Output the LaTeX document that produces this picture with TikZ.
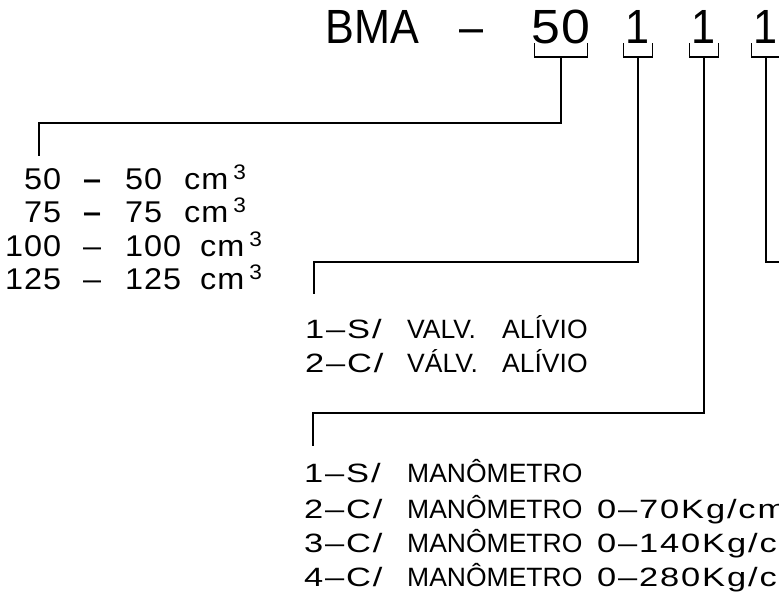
\documentclass[tikz,border=0pt]{standalone}
\usepackage{fontspec}
\setmainfont{Liberation Sans}
\newfontfamily\cadnarrow[FakeStretch=0.9]{Liberation Sans}
\newfontfamily\cadwide[FakeStretch=1.3,LetterSpace=7]{Liberation Sans}
\newfontfamily\cadnum[FakeStretch=1.08,LetterSpace=3]{Liberation Sans}
\usetikzlibrary{positioning,calc}
\tikzset{
  codetext/.style={anchor=base,inner sep=0pt,font=\cadnarrow\fontsize{48}{48}\selectfont},
  listtext/.style={anchor=base west,inner sep=0pt,font=\fontsize{26.5}{26.5}\selectfont},
  listwide/.style={listtext,font=\cadwide\fontsize{26.5}{26.5}\selectfont},
  voltext/.style={anchor=base west,inner sep=0pt,font=\cadnum\fontsize{30}{30}\selectfont},
  lead/.style={draw=black,line width=1.4pt,line cap=rect,line join=miter},
  leadbold/.style={lead,line width=2.2pt}
}

\begin{document}
\begin{tikzpicture}[x=1pt,y=-1pt]
  \useasboundingbox (0,0) rectangle (779,595);
  % model code
  \node[codetext,anchor=base west] (bma) at (325,43) {BMA};
  \node[codetext] (sep) at (472,43) {–};
  \node[codetext,font=\cadnum\fontsize{48}{48}\selectfont] (size) at (561,43) {50};
  \node[codetext] (valve) at (638,43) {1};
  \node[codetext] (gauge) at (704,43) {1};
  \node[codetext] (extra) at (766,43) {1};

  % brackets under each field
  \foreach \nm/\hw in {size/26.5, valve/14.5, gauge/14.5, extra/14.5} {
    \draw[lead] ($(\nm.base)+(-\hw,1)$) |- ($(\nm.base)+(\hw,14)$) -- ++(0,-13);
    \coordinate (\nm-stem) at ($(\nm.base)+(0,14)$);
  }

  % volumes
  \foreach \i/\xa/\y/\n/\xu/\f in {1/24/189/50/184/\bfseries, 2/24/222/75/184/\bfseries,
                                   3/5/256/100/200/\mdseries, 4/5/289/125/200/\mdseries} {
    \node[voltext] (vol\i) at (\xa,\y) {\n};
    \node[voltext] (vold\i) at (83,\y) {\f –};
    \node[voltext] (volv\i) at (125,\y) {\n};
    \node[voltext] (volu\i) at (\xu,\y) {cm\,\textsuperscript{3}};
  }

  % relief valve
  \node[listwide] (valve1) at (305,338) {1–S/};
  \node[listtext] (valve1a) at (407,338) {VALV.};
  \node[listtext] (valve1b) at (502,338) {ALÍVIO};
  \node[listwide] (valve2) at (305,372) {2–C/};
  \node[listtext] (valve2a) at (407,372) {VÁLV.};
  \node[listtext] (valve2b) at (502,372) {ALÍVIO};

  % pressure gauge
  \foreach \i/\y/\p/\r in {1/482/S/{}, 2/518/C/{0–70Kg/cm}, 3/552/C/{0–140Kg/cm}, 4/586/C/{0–280Kg/cm}} {
    \node[listwide] (gauge\i) at (304,\y) {\i–\p/};
    \node[listtext] (gauge\i a) at (407,\y) {MANÔMETRO};
    \node[listwide] (gauge\i b) at (597,\y) {\r};
  }

  % leaders
  \coordinate (size-end) at (39,155);
  \coordinate (valve-end) at (314,293);
  \coordinate (gauge-end) at (313,445);
  \coordinate (extra-end) at (781,262);
  \draw[lead] (size-stem) -- ++(0,66) -| (size-end);
  \draw[lead] (valve-stem) -- ++(0,205) -| (valve-end);
  \draw[leadbold] (gauge-stem) -- ++(0,356) -| (gauge-end);
  \draw[lead] (extra-stem) |- (extra-end);
\end{tikzpicture}
\end{document}
